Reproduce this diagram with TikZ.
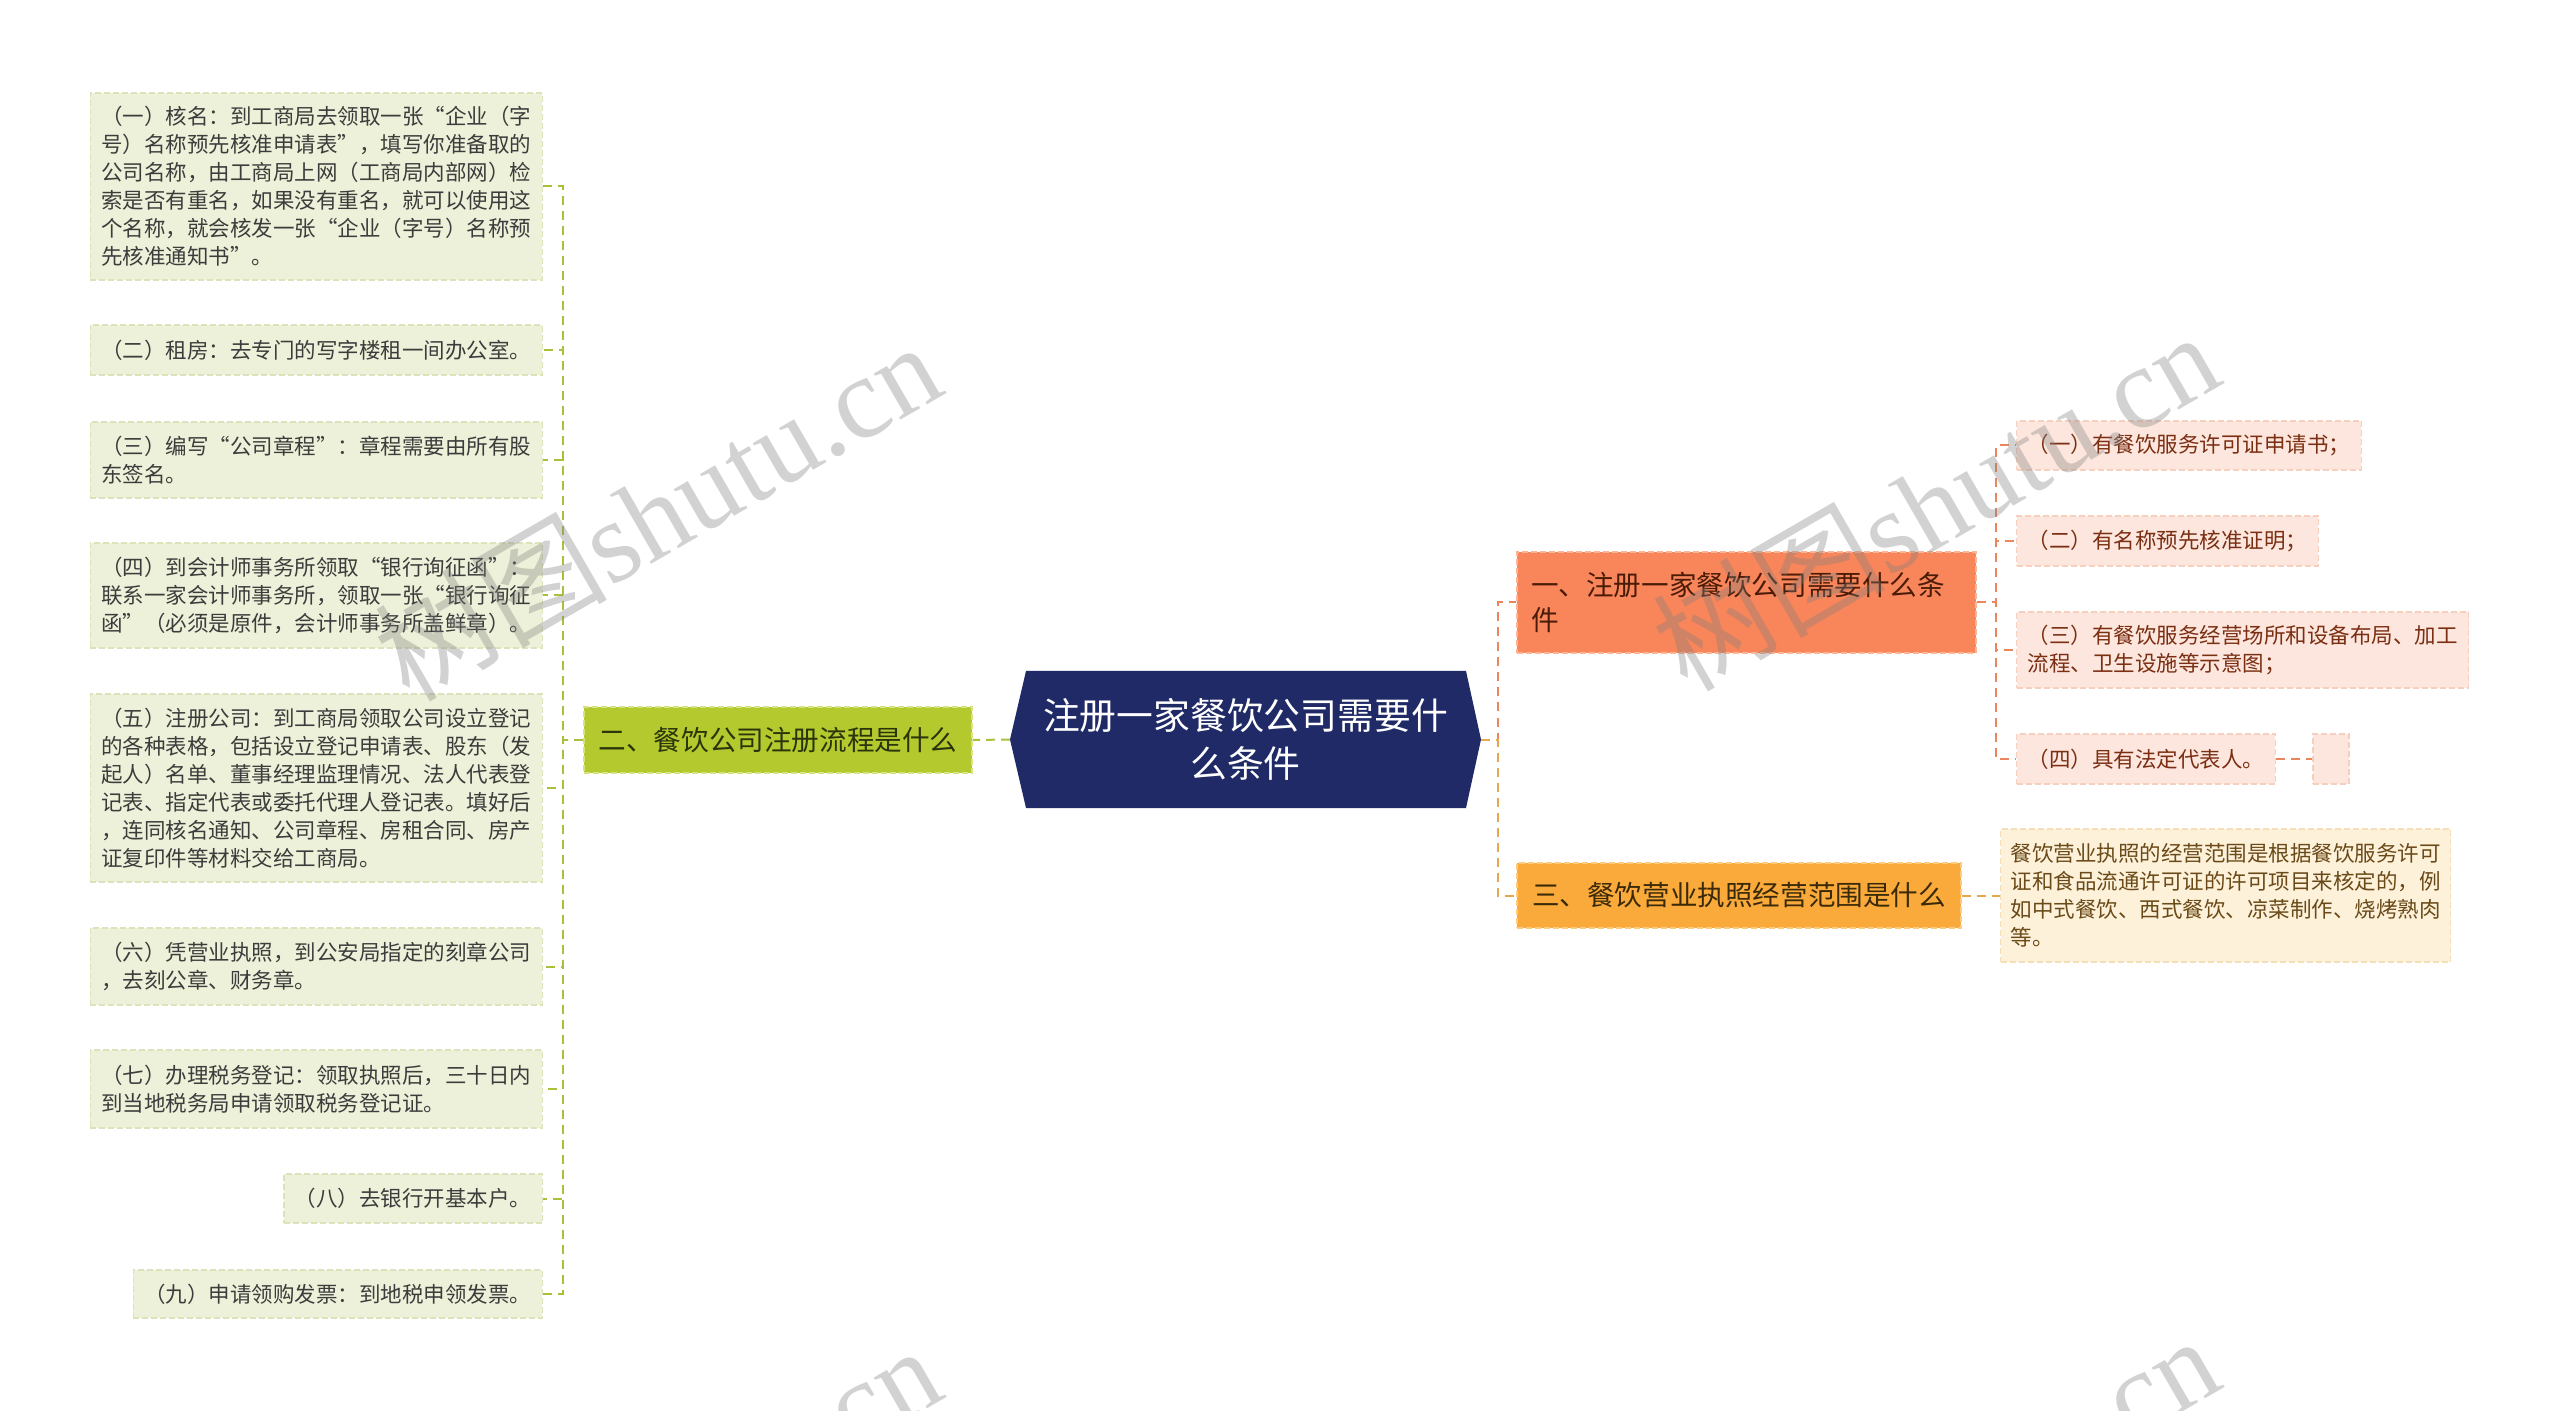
\documentclass[tikz,border=0pt]{standalone}
\usepackage{fontspec}
\setmainfont{Noto Sans CJK SC}
\newfontfamily\cjkfont{Noto Sans CJK SC}
\newfontfamily\wmfont{Liberation Serif}
\usetikzlibrary{positioning}
\definecolor{leafg}{HTML}{EEF1D9}\definecolor{leafgd}{HTML}{DCE2BA}\definecolor{leaft}{HTML}{3C3C3C}
\definecolor{lvlg}{HTML}{B4C92E}\definecolor{lvlgd}{HTML}{D6E283}\definecolor{lvlgt}{HTML}{2B350C}
\definecolor{rootblue}{HTML}{1F2A66}
\definecolor{coral}{HTML}{F9855A}\definecolor{corald}{HTML}{FCB597}\definecolor{coralt}{HTML}{4A1C08}
\definecolor{peach}{HTML}{FDE6DD}\definecolor{peachd}{HTML}{F7CFBF}\definecolor{peacht}{HTML}{7A2E12}
\definecolor{gold}{HTML}{FAAA3A}\definecolor{goldd}{HTML}{FCCB80}\definecolor{goldt}{HTML}{3B2A0A}
\definecolor{cream}{HTML}{FDF1DA}\definecolor{creamd}{HTML}{F4DFB8}\definecolor{creamt}{HTML}{6A4A18}
\definecolor{lgline}{HTML}{A7C23A}\definecolor{crline}{HTML}{E9865E}\definecolor{goline}{HTML}{E5A84E}
\begin{document}
\begin{tikzpicture}[x=0.5pt,y=-0.5pt,
conn/.style={line width=1pt,dash pattern=on 4.5pt off 3pt},
box/.style={line width=0.6pt,dash pattern=on 3pt off 1.5pt,inner ysep=0pt,align=left},
leafl/.style={box,fill=leafg,draw=leafgd,text=leaft,font=\fontsize{10.75}{14}\selectfont,inner xsep=5.5pt,anchor=east},
leafr/.style={box,fill=peach,draw=peachd,text=peacht,font=\fontsize{10.75}{14}\selectfont,inner xsep=5.5pt,anchor=west},
lvl/.style={box,font=\fontsize{13.8}{17.5}\selectfont,inner xsep=7pt},
wm/.style={text=gray,opacity=0.35,rotate=30,font=\fontsize{58}{58}\selectfont}]
\useasboundingbox(0,0)rectangle(2560,1411);
\fill[white](0,0)rectangle(2560,1411);
% centre
\fill[rootblue](1010,739.5)--(1026,671)--(1466,671)--(1481,739.5)--(1466,808)--(1026,808)--cycle;
\coordinate(rootW)at(1010,739.5);\coordinate(rootE)at(1481,739.5);
\node[text=white,align=center,font=\fontsize{18.4}{24}\selectfont](root)at(1245.5,739.5){注册一家餐饮公司需要什\\么条件};
% left branch
\node[lvl,fill=lvlg,draw=lvlgd,text=lvlgt,minimum width=194pt,minimum height=33pt](n2)at(778,740){二、餐饮公司注册流程是什么};
\node[leafl,minimum height=93.5pt](b1)at(543,186.5){（一）核名：到工商局去领取一张“企业（字\\号）名称预先核准申请表”，填写你准备取的\\公司名称，由工商局上网（工商局内部网）检\\索是否有重名，如果没有重名，就可以使用这\\个名称，就会核发一张“企业（字号）名称预\\先核准通知书”。};
\node[leafl,minimum height=25pt](b2)at(543,350){（二）租房：去专门的写字楼租一间办公室。};
\node[leafl,minimum height=38pt](b3)at(543,460){（三）编写“公司章程”：章程需要由所有股\\东签名。};
\node[leafl,minimum height=52.5pt](b4)at(543,595.5){（四）到会计师事务所领取“银行询征函”：\\联系一家会计师事务所，领取一张“银行询征\\函”（必须是原件，会计师事务所盖鲜章）。};
\node[leafl,minimum height=94pt](b5)at(543,788){（五）注册公司：到工商局领取公司设立登记\\的各种表格，包括设立登记申请表、股东（发\\起人）名单、董事经理监理情况、法人代表登\\记表、指定代表或委托代理人登记表。填好后\\，连同核名通知、公司章程、房租合同、房产\\证复印件等材料交给工商局。};
\node[leafl,minimum height=38.5pt](b6)at(543,966.5){（六）凭营业执照，到公安局指定的刻章公司\\，去刻公章、财务章。};
\node[leafl,minimum height=39pt](b7)at(543,1089){（七）办理税务登记：领取执照后，三十日内\\到当地税务局申请领取税务登记证。};
\node[leafl,minimum height=24.5pt](b8)at(543,1198.5){（八）去银行开基本户。};
\node[leafl,minimum height=24pt](b9)at(543,1294){（九）申请领购发票：到地税申领发票。};
\coordinate(lbus)at(563,740);
\draw[conn,lgline](rootW)--(n2.east);
\foreach\b in{b1,b2,b3,b4,b5,b6,b7,b8,b9}
  \draw[conn,lgline](n2.west)--(lbus)|-(\b.east);
% right branch
\node[lvl,fill=coral,draw=corald,text=coralt,text width=215.5pt,minimum height=50.5pt](n1)at(1746.5,602.5){一、注册一家餐饮公司需要什么条\\件};
\node[leafr,minimum height=24.5pt](c1)at(2016,445.5){（一）有餐饮服务许可证申请书；};
\node[leafr,minimum height=25pt](c2)at(2016,541){（二）有名称预先核准证明；};
\node[leafr,minimum height=38pt](c3)at(2016,650){（三）有餐饮服务经营场所和设备布局、加工\\流程、卫生设施等示意图；};
\node[leafr,minimum height=25pt](c4)at(2016,759){（四）具有法定代表人。};
\node[box,fill=peach,draw=peachd,minimum width=18pt,minimum height=25pt](e4)at(2331,759){};
\node[lvl,fill=gold,draw=goldd,text=goldt,minimum width=222pt,minimum height=32.5pt](n3)at(1739,895.5){三、餐饮营业执照经营范围是什么};
\node[box,fill=cream,draw=creamd,text=creamt,font=\fontsize{10.75}{14}\selectfont,inner xsep=5pt,anchor=west,minimum height=66.5pt](c5)at(2000,895.5){餐饮营业执照的经营范围是根据餐饮服务许可\\证和食品流通许可证的许可项目来核定的，例\\如中式餐饮、西式餐饮、凉菜制作、烧烤熟肉\\等。};
\coordinate(rbus)at(1498,739.5);\coordinate(cbus)at(1996,602.5);
\draw[conn,crline](rootE)--(rbus)|-(n1.west);
\draw[conn,goline](rootE)--(rbus)|-(n3.west);
\foreach\c in{c1,c2,c3,c4}
  \draw[conn,crline](n1.east)--(cbus)|-(\c.west);
\draw[conn,crline](c4.east)--(e4.west);
\draw[conn,goline](n3.east)--(c5.west);
% watermarks
\begin{scope}
\clip(0,0)rectangle(2560,1411);
\node[wm](wm1)at(657,510){{\cjkfont 树图}{\wmfont shutu.cn}};
\node[wm](wm2)at(1935,500){{\cjkfont 树图}{\wmfont shutu.cn}};
\node[wm](wm3)at(657,1514){{\cjkfont 树图}{\wmfont shutu.cn}};
\node[wm](wm4)at(1935,1504){{\cjkfont 树图}{\wmfont shutu.cn}};
\end{scope}
\end{tikzpicture}
\end{document}
